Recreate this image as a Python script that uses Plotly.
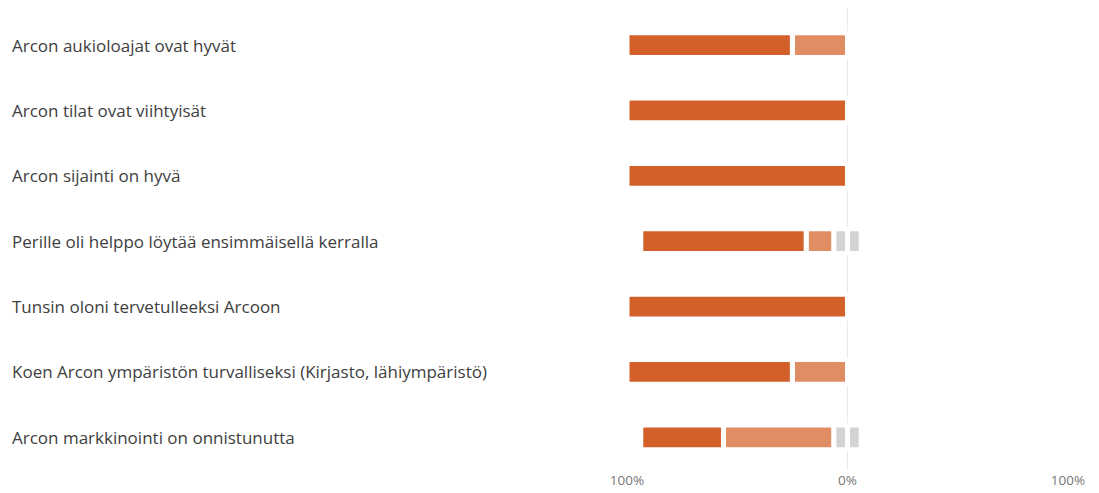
import plotly.graph_objects as go

categories = [
    "Arcon aukioloajat ovat hyvät",
    "Arcon tilat ovat viihtyisät",
    "Arcon sijainti on hyvä",
    "Perille oli helppo löytää ensimmäisellä kerralla",
    "Tunsin oloni tervetulleeksi Arcoon",
    "Koen Arcon ympäristön turvalliseksi (Kirjasto, lähiympäristö)",
    "Arcon markkinointi on onnistunutta",
]
strongly_agree = [75, 100, 100, 75, 100, 75, 37.5]
agree = [25, 0, 0, 12.5, 0, 25, 50]
neutral = [0, 0, 0, 12.5, 0, 0, 12.5]

tick_vals = [-100, 0, 100]
tick_text = ["100%", "0%", "100%"]

DARK = "#D3602A"
LIGHT = "#E08D64"
GRAY = "#D3D3D3"

def nz(v):
    return [x if x != 0 else None for x in v]

half_n = [n / 2 for n in neutral]
base_light = [-h for h in half_n]
base_dark = [-(h + a) for h, a in zip(half_n, agree)]

fig = go.Figure()
common = dict(orientation="h", width=0.38, marker_line=dict(color="white", width=5),
              marker_cornerradius=3, hoverinfo="skip", showlegend=False)

fig.add_trace(go.Bar(y=categories, x=nz([-h for h in half_n]), base=0, marker_color=GRAY, **common))
fig.add_trace(go.Bar(y=categories, x=nz(half_n), base=0, marker_color=GRAY, **common))
fig.add_trace(go.Bar(y=categories, x=nz([-a for a in agree]), base=base_light, marker_color=LIGHT, **common))
fig.add_trace(go.Bar(y=categories, x=nz([-s for s in strongly_agree]), base=base_dark, marker_color=DARK, **common))

L, R = 619, 39
plot_w = 1099 - L - R
for c in categories:
    fig.add_annotation(x=(2 - L) / plot_w, xref="paper", y=c, yref="y", text=c,
                       xanchor="left", yanchor="middle", showarrow=False,
                       font=dict(family="Open Sans", size=17, color="#404040"))

fig.update_layout(
    width=1099, height=484, barmode="overlay",
    margin=dict(l=L, r=R, t=0, b=22),
    paper_bgcolor="white", plot_bgcolor="white",
    font=dict(family="Open Sans", color="#777777"),
)
fig.update_xaxes(range=[-100, 100], tickvals=tick_vals, ticktext=tick_text,
                 showgrid=True, gridcolor="#EAEAEA", gridwidth=1,
                 zeroline=True, zerolinecolor="#EAEAEA", zerolinewidth=1,
                 tickfont=dict(size=13.5, color="#777777"), fixedrange=True, showline=False)
fig.update_yaxes(type="category", categoryorder="array", categoryarray=categories,
                 range=[6.5, -0.567], showticklabels=False, showgrid=False, zeroline=False)

fig.write_html("out.html")
